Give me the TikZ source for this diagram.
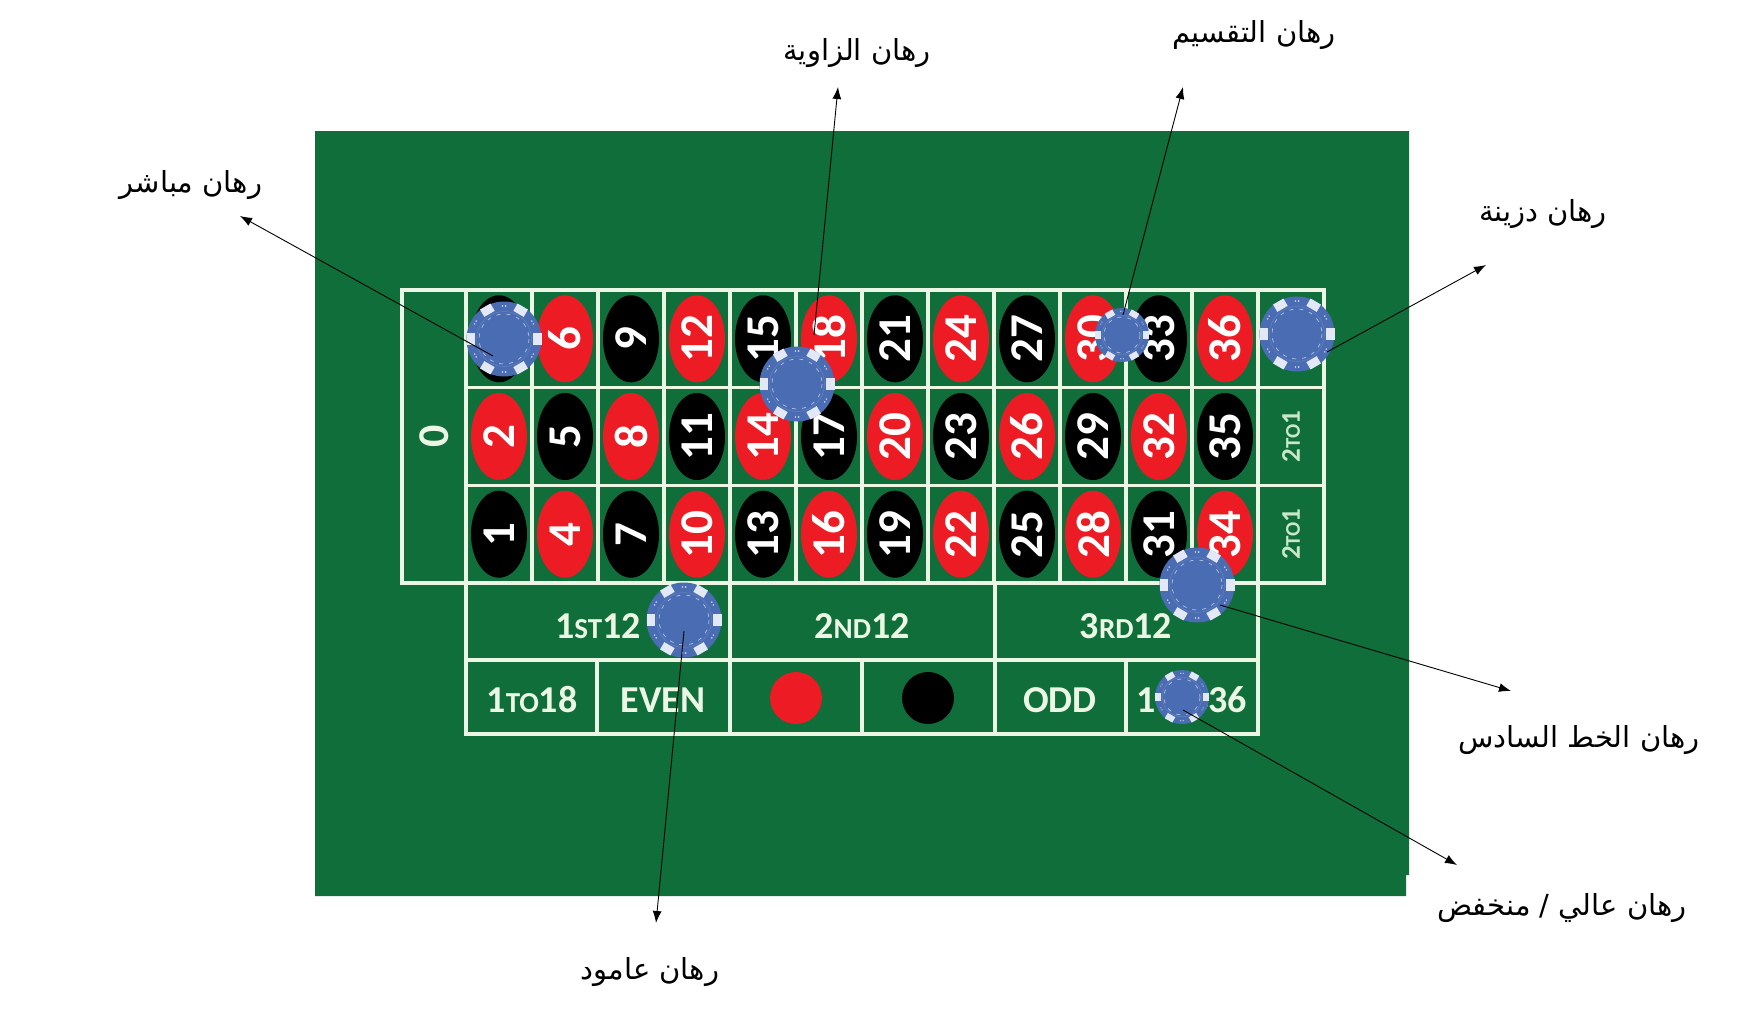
\documentclass[tikz,border=0pt]{standalone}
\usepackage{fontspec}
\usepackage{tikz}
\usetikzlibrary{shapes.geometric, arrows.meta}
\TeXXeTstate=1
\newfontfamily\arabicfont[Script=Arabic]{DejaVu Sans}
\newfontfamily\feltfont{Carlito}
\definecolor{felt}{RGB}{16,110,58}
\definecolor{feltline}{RGB}{236,246,228}
\definecolor{pocketred}{RGB}{237,28,36}
\definecolor{chipblue}{RGB}{74,108,178}
\definecolor{chipmark}{RGB}{226,232,245}
\definecolor{pale}{RGB}{200,232,200}
\newcommand{\lowcaps}[1]{{\fontsize{29}{29}\selectfont #1}}
\newcommand{\sidecaps}[1]{{\fontsize{21}{21}\selectfont #1}}
\newcommand{\betchip}[4]{%
  \node[chip, minimum size=2*#4] (#1) at (#2,#3) {};
  \begin{scope}[shift={(#1.center)}, scale=#4/37.5]
    \foreach \a in {0,60,...,300}
      \fill[chipmark, rotate=\a] (29,-6) rectangle (37.5,6);
    \draw[chipblue!85!white, line width=0.5pt] (0,0) circle (27.5);
    \draw[chipmark!70!chipblue, line width=0.7pt, dash pattern=on 4pt off 6pt] (0,0) circle (25);
    \foreach \a in {30,90,...,330}
      \fill[chipmark!85!chipblue, rotate=\a] (33,-1.6) circle (0.9) (33,1.6) circle (0.9);
  \end{scope}}

\begin{document}
\begin{tikzpicture}[x=1pt, y=-1pt,
  grid/.style = {draw=feltline, line width=3.5pt},
  numoval/.style = {shape=ellipse, rotate=90, minimum width=87pt,
    minimum height=56pt, inner sep=0pt, text=white,
    font=\feltfont\bfseries\fontsize{47}{47}\selectfont},
  boxlabel/.style = {text=feltline, inner sep=0pt,
    font=\feltfont\bfseries\fontsize{38}{38}\selectfont},
  sidelabel/.style = {text=pale, rotate=90, inner sep=0pt,
    font=\feltfont\bfseries\fontsize{27}{27}\selectfont},
  chip/.style = {shape=circle, fill=chipblue, inner sep=0pt},
  spot/.style = {shape=circle, minimum size=52pt, inner sep=0pt},
  bet/.style = {font=\arabicfont\fontsize{29}{34}\selectfont},
  pointer/.style = {draw, line width=0.9pt, -{Latex[length=12pt, width=9pt]}}]
  \fill[white] (0,0) rectangle (1737,1017);
  \useasboundingbox (0,0) rectangle (1737,1017);
  \fill[felt] (315,131) -- (1409,131) -- (1409,875) -- (1406,875)
    -- (1406,896) -- (315,896) -- cycle;

  \foreach \k in {1,...,12}
    \foreach \r/\yy in {0/534.2, 1/436.5, 2/338.8} {
      \pgfmathtruncatemacro\num{3*\k-2+\r}
      \ifodd\num \def\pc{black}\else\def\pc{pocketred}\fi
      \node[numoval, fill=\pc] (n\num) at ({433+66*\k},\yy) {\num};
    }

  \draw[grid] (402,290) rectangle (1324,583);
  \foreach \x in {466,532,...,1258}
    \draw[grid] (\x,290) -- (\x,583);
  \draw[grid] (466,387.7) -- (1324,387.7) (466,485.3) -- (1324,485.3);
  \draw[grid] (466,583) rectangle (1258,734);
  \draw[grid] (466,660) -- (1258,660);
  \draw[grid] (730,583) -- (730,734) (995,583) -- (995,734);
  \draw[grid] (597,660) -- (597,734) (862,660) -- (862,734)
    (1126,660) -- (1126,734);

  \node[boxlabel, rotate=90, font=\feltfont\bfseries\fontsize{44}{44}\selectfont]
    (zero) at (434,436.5) {0};
  \node[sidelabel] (colC) at (1291,338.8) {2\sidecaps{TO}1};
  \node[sidelabel] (colB) at (1291,436.5) {2\sidecaps{TO}1};
  \node[sidelabel] (colA) at (1291,534.2) {2\sidecaps{TO}1};
  \node[boxlabel] (dozA) at (598,626) {1\lowcaps{ST}12};
  \node[boxlabel] (dozB) at (862,626) {2\lowcaps{ND}12};
  \node[boxlabel] (dozC) at (1126,626) {3\lowcaps{RD}12};
  \node[boxlabel] (low) at (532,700) {1\lowcaps{TO}18};
  \node[boxlabel] (even) at (663,700) {EVEN};
  \node[spot, fill=pocketred] (reddot) at (796,698) {};
  \node[spot, fill=black] (blackdot) at (928,698) {};
  \node[boxlabel] (odd) at (1060,700) {ODD};
  \node[boxlabel] (high) at (1192,700) {19\lowcaps{TO}36};

  \betchip{chipA}{504}{339}{37.5}
  \betchip{chipB}{797}{384}{37.5}
  \betchip{chipC}{1122}{335}{27}
  \betchip{chipD}{1297}{334}{37.5}
  \betchip{chipE}{1197}{585}{37.5}
  \betchip{chipF}{684}{620}{37.5}
  \betchip{chipG}{1182}{697}{27}

  \node[bet] (straight) at (191,185) {\beginR رهان مباشر\endR};
  \node[bet] (corner) at (857,53) {\beginR رهان الزاوية\endR};
  \node[bet] (split) at (1254,35) {\beginR رهان التقسيم\endR};
  \node[bet] (dozen) at (1543,214) {\beginR رهان دزينة\endR};
  \node[bet] (sixline) at (1579,740) {\beginR رهان الخط السادس\endR};
  \node[bet] (highlow) at (1562,908) {\beginR رهان عالي / منخفض\endR};
  \node[bet] (column) at (650,972) {\beginR رهان عامود\endR};

  \coordinate (straighttip) at (240,216);
  \coordinate (cornertip) at (838,87);
  \coordinate (splittip) at (1183,87);
  \coordinate (dozentip) at (1486,265);
  \coordinate (sixlinetip) at (1511,691);
  \coordinate (highlowtip) at (1457,865);
  \coordinate (columntip) at (656,923);

  \draw[pointer] ([shift={(-11,17)}]chipA.center) -- (straighttip);
  \draw[pointer] ([shift={(17,-49)}]chipB.center) -- (cornertip);
  \draw[pointer] ([shift={(1,-20)}]chipC.center) -- (splittip);
  \draw[pointer] ([shift={(30,18)}]chipD.center) -- (dozentip);
  \draw[pointer] ([shift={(23,20)}]chipE.center) -- (sixlinetip);
  \draw[pointer] ([shift={(1,13)}]chipG.center) -- (highlowtip);
  \draw[pointer] ([shift={(0,11)}]chipF.center) -- (columntip);
\end{tikzpicture}
\end{document}
